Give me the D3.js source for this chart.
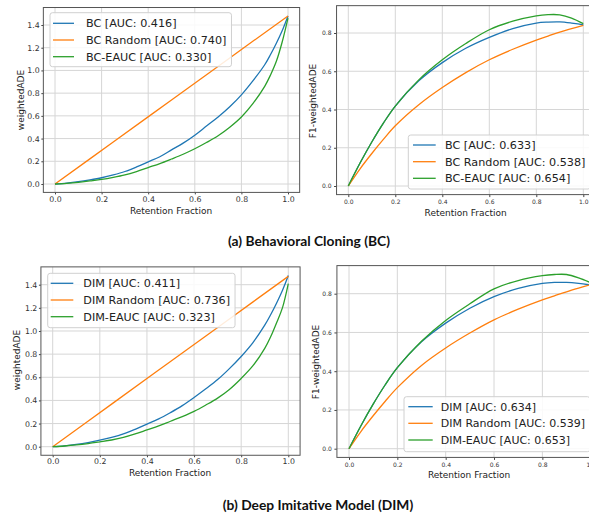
<!DOCTYPE html>
<html><head><meta charset="utf-8">
<script src="https://cdn.jsdelivr.net/npm/d3@7"></script>
<style>body{margin:0;background:#fff}svg{display:block}</style>
</head><body>
<script>
// ---------- DATA ----------
const retentionADE = [0,0.05,0.1,0.15,0.2,0.25,0.3,0.35,0.4,0.45,0.5,0.55,0.6,0.65,0.7,0.75,0.8,0.85,0.9,0.925,0.95,0.975,1.0];
const retentionRandom = [0,0.25,0.5,0.75,1.0];
const retentionF1 = [0,0.05,0.1,0.15,0.2,0.3,0.4,0.5,0.6,0.7,0.8,0.85,0.9,0.95,1.0];

const bcADE      = [0,0.008,0.02,0.036,0.055,0.08,0.11,0.15,0.195,0.24,0.3,0.36,0.43,0.51,0.59,0.68,0.785,0.91,1.05,1.14,1.24,1.35,1.48];
const bcRandADE  = [0,0.37,0.74,1.11,1.48];
const bcEaucADE  = [0,0.006,0.015,0.027,0.04,0.058,0.08,0.11,0.145,0.18,0.22,0.262,0.31,0.365,0.425,0.5,0.59,0.71,0.86,0.96,1.08,1.25,1.46];

const bcF1       = [0,0.12,0.23,0.33,0.418,0.55,0.645,0.72,0.777,0.823,0.852,0.857,0.858,0.852,0.843];
const bcRandF1   = [0,0.09,0.17,0.245,0.315,0.425,0.515,0.593,0.66,0.715,0.763,0.784,0.805,0.823,0.84];
const bcEaucF1   = [0,0.12,0.23,0.33,0.418,0.555,0.66,0.745,0.817,0.862,0.89,0.896,0.895,0.878,0.849];

const dimADE     = [0,0.008,0.02,0.036,0.056,0.08,0.11,0.15,0.195,0.24,0.295,0.355,0.425,0.5,0.58,0.675,0.78,0.9,1.05,1.14,1.24,1.35,1.48];
const dimRandADE = [0,0.368,0.736,1.104,1.472];
const dimEaucADE = [0,0.006,0.015,0.027,0.042,0.058,0.08,0.11,0.145,0.18,0.22,0.26,0.305,0.36,0.42,0.495,0.59,0.7,0.85,0.95,1.07,1.2,1.41];

const dimF1      = [0,0.12,0.23,0.33,0.418,0.552,0.648,0.725,0.785,0.827,0.853,0.858,0.858,0.853,0.845];
const dimRandF1  = [0,0.09,0.17,0.245,0.315,0.43,0.52,0.597,0.665,0.72,0.768,0.789,0.81,0.829,0.847];
const dimEaucF1  = [0,0.12,0.23,0.33,0.418,0.555,0.662,0.748,0.825,0.868,0.893,0.899,0.899,0.882,0.857];

const xTicks = [0,0.2,0.4,0.6,0.8,1.0];
const yTicksADE = [0,0.2,0.4,0.6,0.8,1.0,1.2,1.4];
const yTicksF1 = [0,0.2,0.4,0.6,0.8];

const labelsBC = ["BC [AUC: 0.416]","BC Random [AUC: 0.740]","BC-EAUC [AUC: 0.330]"];
const labelsBCF1 = ["BC [AUC: 0.633]","BC Random [AUC: 0.538]","BC-EAUC [AUC: 0.654]"];
const labelsDIM = ["DIM [AUC: 0.411]","DIM Random [AUC: 0.736]","DIM-EAUC [AUC: 0.323]"];
const labelsDIMF1 = ["DIM [AUC: 0.634]","DIM Random [AUC: 0.539]","DIM-EAUC [AUC: 0.653]"];
const captions = ["(a) Behavioral Cloning (BC)","(b) Deep Imitative Model (DIM)"];
const colors = ["#1f77b4","#ff7f0e","#2ca02c"];

// ---------- DRAW ----------
const W = 589, H = 519;
const svg = d3.select("body").append("svg").attr("width",W).attr("height",H);
const FONT = "'DejaVu Sans', 'Liberation Sans', sans-serif";

function panel(cfg){
  const x = d3.scaleLinear().domain([0,1]).range([cfg.x0,cfg.x1]);
  const ppu = (cfg.yZero - cfg.yRefPx)/cfg.yRef;
  const y = d3.scaleLinear().domain([0,1]).range([cfg.yZero, cfg.yZero-ppu]);
  const left = x(-0.05), right = x(1.05), top = y(cfg.yDom[1]), bottom = y(cfg.yDom[0]);
  const g = svg.append("g");
  const clipId = "clip"+cfg.id;
  svg.append("clipPath").attr("id",clipId).append("rect")
    .attr("x",left).attr("y",top).attr("width",right-left).attr("height",bottom-top);
  g.selectAll(".gx").data(cfg.xTicks).enter().append("line")
    .attr("x1",d=>x(d)).attr("x2",d=>x(d)).attr("y1",top).attr("y2",bottom)
    .attr("stroke","#d6d6d6").attr("stroke-width",1);
  g.selectAll(".gy").data(cfg.yTicks).enter().append("line")
    .attr("x1",left).attr("x2",right).attr("y1",d=>y(d)).attr("y2",d=>y(d))
    .attr("stroke","#d6d6d6").attr("stroke-width",1);
  const ax = d3.axisBottom(x).tickValues(cfg.xTicks).tickFormat(d3.format(".1f")).tickSize(cfg.tk).tickPadding(cfg.tp);
  const ay = d3.axisLeft(y).tickValues(cfg.yTicks).tickFormat(d3.format(".1f")).tickSize(cfg.tk).tickPadding(cfg.tp);
  const gx = g.append("g").attr("transform",`translate(0,${bottom})`).call(ax);
  const gy = g.append("g").attr("transform",`translate(${left},0)`).call(ay);
  [gx,gy].forEach(a=>{
    a.attr("font-family",null).attr("font-size",null);
    a.select(".domain").remove();
    a.selectAll("line").attr("stroke","#444");
    a.selectAll("text").attr("fill","#333").style("font-family",FONT).style("font-size",cfg.tickFs+"px");
  });
  const lines = g.append("g").attr("clip-path",`url(#${clipId})`);
  cfg.series.forEach((s,i)=>{
    const pts = s.xs.map((v,j)=>[v,s.ys[j]]);
    lines.append("path").datum(pts)
      .attr("d", d3.line().x(d=>x(d[0])).y(d=>y(d[1])).curve(d3.curveCatmullRom.alpha(0.5)))
      .attr("fill","none").attr("stroke",colors[i]).attr("stroke-width",1.3);
  });
  g.append("rect").attr("x",left).attr("y",top).attr("width",right-left).attr("height",bottom-top)
    .attr("fill","none").attr("stroke","#555").attr("stroke-width",1);
  g.append("text").attr("x",cfg.xlab[0]).attr("y",cfg.xlab[1]).attr("text-anchor","middle")
    .style("font-family",FONT).style("font-size","9px").attr("fill","#222").text("Retention Fraction");
  g.append("text").attr("transform",`translate(${cfg.ylab[0]},${cfg.ylab[1]}) rotate(-90)`)
    .attr("text-anchor","middle").attr("dy","0.35em")
    .style("font-family",FONT).style("font-size","9px").attr("fill","#222").text(cfg.ylabel);
  const lg = g.append("g");
  const box = lg.append("rect").attr("rx",2.5).attr("fill","rgba(255,255,255,0.85)")
    .attr("stroke","#d0d0d0").attr("stroke-width",1);
  let maxW = 0;
  cfg.labels.forEach((t,i)=>{
    const ry = cfg.leg.rows[i];
    lg.append("line").attr("x1",cfg.leg.l0).attr("x2",cfg.leg.l1).attr("y1",ry).attr("y2",ry)
      .attr("stroke",colors[i]).attr("stroke-width",1.3);
    const tx = lg.append("text").attr("x",cfg.leg.tx).attr("y",ry).attr("dy","0.36em")
      .style("font-family",FONT).style("font-size",cfg.leg.fs+"px").attr("fill","#222").text(t);
    maxW = Math.max(maxW, tx.node().getComputedTextLength());
  });
  box.attr("x",cfg.leg.bx).attr("y",cfg.leg.by)
    .attr("width",cfg.leg.tx+maxW+5-cfg.leg.bx).attr("height",cfg.leg.bh);
}

panel({id:1,x0:55,x1:288,yZero:184,yRefPx:25,yRef:1.4,yDom:[-0.074,1.554],
  xTicks:xTicks,yTicks:yTicksADE,tickFs:7.8,tk:2,tp:1.6,
  series:[{xs:retentionADE,ys:bcADE},{xs:retentionRandom,ys:bcRandADE},{xs:retentionADE,ys:bcEaucADE}],
  xlab:[171,214],ylab:[20.7,100],ylabel:"weightedADE",labels:labelsBC,
  leg:{bx:50,by:12.7,bh:54,rows:[23.3,40,56.7],l0:53,l1:74,tx:86,fs:11.2}});
panel({id:2,x0:348.3,x1:583.3,yZero:186,yRefPx:33,yRef:0.8,yDom:[-0.045,0.943],
  xTicks:xTicks,yTicks:yTicksF1,tickFs:6,tk:2.5,tp:2.5,
  series:[{xs:retentionF1,ys:bcF1},{xs:retentionF1,ys:bcRandF1},{xs:retentionF1,ys:bcEaucF1}],
  xlab:[465.7,215.5],ylab:[313.3,101],ylabel:"F1-weightedADE",labels:labelsBCF1,
  leg:{bx:408.3,by:135,bh:54,rows:[145,161.7,178.3],l0:413,l1:435.7,tx:445,fs:11.2}});
panel({id:3,x0:52.7,x1:288.3,yZero:446.7,yRefPx:284.7,yRef:1.4,yDom:[-0.074,1.554],
  xTicks:xTicks,yTicks:yTicksADE,tickFs:7.8,tk:2,tp:1.6,
  series:[{xs:retentionADE,ys:dimADE},{xs:retentionRandom,ys:dimRandADE},{xs:retentionADE,ys:dimEaucADE}],
  xlab:[170,476],ylab:[17,360],ylabel:"weightedADE",labels:labelsDIM,
  leg:{bx:47.7,by:273.3,bh:54.4,rows:[283.3,300,316.7],l0:50.7,l1:73.3,tx:83.3,fs:11.2}});
panel({id:4,x0:349,x1:590.7,yZero:448.7,yRefPx:293.7,yRef:0.8,yDom:[-0.045,0.945],
  xTicks:xTicks,yTicks:yTicksF1,tickFs:6,tk:2.5,tp:2.5,
  series:[{xs:retentionF1,ys:dimF1},{xs:retentionF1,ys:dimRandF1},{xs:retentionF1,ys:dimEaucF1}],
  xlab:[469,477.5],ylab:[316,362],ylabel:"F1-weightedADE",labels:labelsDIMF1,
  leg:{bx:404,by:396.7,bh:55,rows:[406.7,423.3,440],l0:408.3,l1:432.7,tx:440.7,fs:11}});

svg.append("text").attr("x",309).attr("y",246).attr("text-anchor","middle")
  .style("font-family","Lato, 'Open Sans', sans-serif").style("font-weight","bold").style("font-size","13.8px")
  .attr("fill","#111").text(captions[0]);
svg.append("text").attr("x",318).attr("y",509.5).attr("text-anchor","middle")
  .style("font-family","Lato, 'Open Sans', sans-serif").style("font-weight","bold").style("font-size","13.8px")
  .attr("fill","#111").text(captions[1]);
</script>
</body></html>
